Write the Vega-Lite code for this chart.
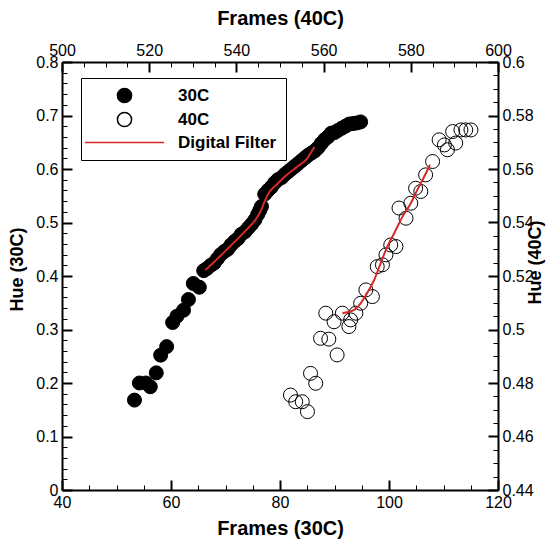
{
  "$schema": "https://vega.github.io/schema/vega-lite/v6.json",
  "width": 436,
  "height": 428,
  "autosize": {"type": "none"},
  "padding": {"left": 62, "top": 62, "right": 60, "bottom": 49},
  "background": "white",
  "config": {
    "font": "Liberation Sans",
    "view": {"stroke": null},
    "axis": {
      "grid": false,
      "domainColor": "black",
      "domainWidth": 2,
      "tickColor": "black",
      "labelFont": "Liberation Sans",
      "labelFontSize": 16,
      "labelColor": "black",
      "labelOverlap": false,
      "labelBound": false,
      "labelFlush": false,
      "titleFont": "Liberation Sans",
      "titleFontSize": 18,
      "titleFontWeight": "bold",
      "titleColor": "black"
    }
  },
  "datasets": {
    "p30": [
      {"frame": 53.3, "hue": 0.168, "series": "30C"},
      {"frame": 54.2, "hue": 0.200, "series": "30C"},
      {"frame": 55.4, "hue": 0.200, "series": "30C"},
      {"frame": 56.2, "hue": 0.193, "series": "30C"},
      {"frame": 57.3, "hue": 0.219, "series": "30C"},
      {"frame": 58.1, "hue": 0.252, "series": "30C"},
      {"frame": 59.2, "hue": 0.268, "series": "30C"},
      {"frame": 60.3, "hue": 0.313, "series": "30C"},
      {"frame": 61.1, "hue": 0.325, "series": "30C"},
      {"frame": 62.3, "hue": 0.336, "series": "30C"},
      {"frame": 63.2, "hue": 0.356, "series": "30C"},
      {"frame": 64.1, "hue": 0.386, "series": "30C"},
      {"frame": 65.2, "hue": 0.379, "series": "30C"},
      {"frame": 66.0, "hue": 0.410, "series": "30C"},
      {"frame": 66.6, "hue": 0.414, "series": "30C"},
      {"frame": 67.3, "hue": 0.420, "series": "30C"},
      {"frame": 67.9, "hue": 0.424, "series": "30C"},
      {"frame": 68.5, "hue": 0.432, "series": "30C"},
      {"frame": 69.1, "hue": 0.440, "series": "30C"},
      {"frame": 69.8, "hue": 0.446, "series": "30C"},
      {"frame": 70.4, "hue": 0.450, "series": "30C"},
      {"frame": 71.0, "hue": 0.458, "series": "30C"},
      {"frame": 71.7, "hue": 0.465, "series": "30C"},
      {"frame": 72.3, "hue": 0.470, "series": "30C"},
      {"frame": 72.9, "hue": 0.478, "series": "30C"},
      {"frame": 73.6, "hue": 0.483, "series": "30C"},
      {"frame": 74.2, "hue": 0.490, "series": "30C"},
      {"frame": 74.8, "hue": 0.497, "series": "30C"},
      {"frame": 75.4, "hue": 0.505, "series": "30C"},
      {"frame": 75.9, "hue": 0.515, "series": "30C"},
      {"frame": 76.3, "hue": 0.523, "series": "30C"},
      {"frame": 76.6, "hue": 0.530, "series": "30C"},
      {"frame": 77.2, "hue": 0.553, "series": "30C"},
      {"frame": 77.8, "hue": 0.560, "series": "30C"},
      {"frame": 78.4, "hue": 0.566, "series": "30C"},
      {"frame": 79.0, "hue": 0.574, "series": "30C"},
      {"frame": 79.6, "hue": 0.580, "series": "30C"},
      {"frame": 80.3, "hue": 0.584, "series": "30C"},
      {"frame": 80.9, "hue": 0.590, "series": "30C"},
      {"frame": 81.5, "hue": 0.595, "series": "30C"},
      {"frame": 82.1, "hue": 0.600, "series": "30C"},
      {"frame": 82.7, "hue": 0.605, "series": "30C"},
      {"frame": 83.3, "hue": 0.610, "series": "30C"},
      {"frame": 84.0, "hue": 0.616, "series": "30C"},
      {"frame": 84.6, "hue": 0.621, "series": "30C"},
      {"frame": 85.2, "hue": 0.626, "series": "30C"},
      {"frame": 85.8, "hue": 0.630, "series": "30C"},
      {"frame": 86.4, "hue": 0.634, "series": "30C"},
      {"frame": 87.0, "hue": 0.640, "series": "30C"},
      {"frame": 87.6, "hue": 0.648, "series": "30C"},
      {"frame": 88.2, "hue": 0.655, "series": "30C"},
      {"frame": 88.8, "hue": 0.660, "series": "30C"},
      {"frame": 89.4, "hue": 0.667, "series": "30C"},
      {"frame": 90.0, "hue": 0.668, "series": "30C"},
      {"frame": 90.6, "hue": 0.672, "series": "30C"},
      {"frame": 91.3, "hue": 0.676, "series": "30C"},
      {"frame": 92.0, "hue": 0.680, "series": "30C"},
      {"frame": 92.7, "hue": 0.684, "series": "30C"},
      {"frame": 93.4, "hue": 0.685, "series": "30C"},
      {"frame": 94.1, "hue": 0.686, "series": "30C"},
      {"frame": 94.8, "hue": 0.688, "series": "30C"}
    ],
    "f30": [
      {"frame": 66.3, "hue": 0.411},
      {"frame": 68.0, "hue": 0.427},
      {"frame": 70.0, "hue": 0.447},
      {"frame": 72.0, "hue": 0.467},
      {"frame": 74.0, "hue": 0.488},
      {"frame": 75.5, "hue": 0.505},
      {"frame": 76.5, "hue": 0.522},
      {"frame": 77.2, "hue": 0.540},
      {"frame": 78.0, "hue": 0.556},
      {"frame": 79.5, "hue": 0.572},
      {"frame": 81.0, "hue": 0.587},
      {"frame": 83.0, "hue": 0.603},
      {"frame": 85.0, "hue": 0.620},
      {"frame": 86.3, "hue": 0.641}
    ],
    "p40": [
      {"frame": 552.4, "hue": 0.4755, "series": "40C"},
      {"frame": 553.6, "hue": 0.4730, "series": "40C"},
      {"frame": 555.1, "hue": 0.4730, "series": "40C"},
      {"frame": 556.3, "hue": 0.4693, "series": "40C"},
      {"frame": 557.0, "hue": 0.4836, "series": "40C"},
      {"frame": 558.2, "hue": 0.4799, "series": "40C"},
      {"frame": 559.3, "hue": 0.4967, "series": "40C"},
      {"frame": 561.2, "hue": 0.4964, "series": "40C"},
      {"frame": 563.1, "hue": 0.4905, "series": "40C"},
      {"frame": 560.5, "hue": 0.5061, "series": "40C"},
      {"frame": 562.4, "hue": 0.5029, "series": "40C"},
      {"frame": 564.3, "hue": 0.5061, "series": "40C"},
      {"frame": 565.8, "hue": 0.5011, "series": "40C"},
      {"frame": 566.2, "hue": 0.5036, "series": "40C"},
      {"frame": 567.4, "hue": 0.5061, "series": "40C"},
      {"frame": 568.5, "hue": 0.5098, "series": "40C"},
      {"frame": 569.7, "hue": 0.5148, "series": "40C"},
      {"frame": 571.2, "hue": 0.5123, "series": "40C"},
      {"frame": 572.3, "hue": 0.5235, "series": "40C"},
      {"frame": 573.5, "hue": 0.5242, "series": "40C"},
      {"frame": 574.3, "hue": 0.5279, "series": "40C"},
      {"frame": 575.4, "hue": 0.5316, "series": "40C"},
      {"frame": 576.6, "hue": 0.5310, "series": "40C"},
      {"frame": 577.3, "hue": 0.5454, "series": "40C"},
      {"frame": 578.9, "hue": 0.5416, "series": "40C"},
      {"frame": 580.0, "hue": 0.5472, "series": "40C"},
      {"frame": 581.1, "hue": 0.5528, "series": "40C"},
      {"frame": 582.3, "hue": 0.5516, "series": "40C"},
      {"frame": 583.4, "hue": 0.5578, "series": "40C"},
      {"frame": 585.0, "hue": 0.5628, "series": "40C"},
      {"frame": 586.5, "hue": 0.5709, "series": "40C"},
      {"frame": 587.7, "hue": 0.5690, "series": "40C"},
      {"frame": 588.4, "hue": 0.5672, "series": "40C"},
      {"frame": 589.6, "hue": 0.5740, "series": "40C"},
      {"frame": 590.3, "hue": 0.5697, "series": "40C"},
      {"frame": 591.5, "hue": 0.5746, "series": "40C"},
      {"frame": 592.6, "hue": 0.5746, "series": "40C"},
      {"frame": 593.8, "hue": 0.5746, "series": "40C"}
    ],
    "f40": [
      {"frame": 564.3, "hue": 0.5061},
      {"frame": 567.0, "hue": 0.5073},
      {"frame": 568.5, "hue": 0.5098},
      {"frame": 570.0, "hue": 0.5136},
      {"frame": 571.6, "hue": 0.5185},
      {"frame": 573.1, "hue": 0.5248},
      {"frame": 574.6, "hue": 0.5310},
      {"frame": 576.2, "hue": 0.5360},
      {"frame": 578.1, "hue": 0.5422},
      {"frame": 580.0, "hue": 0.5472},
      {"frame": 581.5, "hue": 0.5522},
      {"frame": 583.1, "hue": 0.5572},
      {"frame": 584.4, "hue": 0.5616}
    ]
  },
  "layer": [
    {
      "encoding": {
        "x": {
          "field": "frame", "type": "quantitative",
          "scale": {"domain": [40, 120], "nice": false, "zero": false},
          "axis": {
            "orient": "bottom", "title": "Frames (30C)", "titleFontSize": 20,
            "values": [40,45,50,55,60,65,70,75,80,85,90,95,100,105,110,115,120],
            "labelExpr": "datum.value % 20 === 0 ? datum.label : ''",
            "tickSize": {"condition": {"test": "datum.value % 20 === 0", "value": -10}, "value": -5},
            "tickWidth": {"condition": {"test": "datum.value % 20 === 0", "value": 2}, "value": 1},
            "labelPadding": 14,
            "titlePadding": 3
          }
        },
        "y": {
          "field": "hue", "type": "quantitative",
          "scale": {"domain": [0, 0.8], "nice": false, "zero": false},
          "axis": {
            "orient": "left", "title": "Hue (30C)", "format": "~g", "titleY": 207,
            "values": [0,0.02,0.04,0.06,0.08,0.1,0.12,0.14,0.16,0.18,0.2,0.22,0.24,0.26,0.28,0.3,0.32,0.34,0.36,0.38,0.4,0.42,0.44,0.46,0.48,0.5,0.52,0.54,0.56,0.58,0.6,0.62,0.64,0.66,0.68,0.7,0.72,0.74,0.76,0.78,0.8],
            "labelExpr": "abs(datum.value*10 - round(datum.value*10)) < 0.001 ? datum.label : ''",
            "tickSize": {"condition": {"test": "abs(datum.value*10 - round(datum.value*10)) < 0.001", "value": -10}, "value": -5},
            "tickWidth": {"condition": {"test": "abs(datum.value*10 - round(datum.value*10)) < 0.001", "value": 2}, "value": 1},
            "labelPadding": 14,
            "titlePadding": 9
          }
        }
      },
      "layer": [
        {
          "data": {"name": "p30"},
          "mark": {"type": "point", "size": 196, "strokeWidth": 1, "opacity": 1},
          "encoding": {
            "fill": {
              "field": "series", "type": "nominal",
              "scale": {"domain": ["30C", "40C", "Digital Filter"], "range": ["black", "transparent", "transparent"]},
              "legend": {
                "orient": "none", "legendX": 19, "legendY": 16, "title": null,
                "direction": "vertical", "padding": 9,
                "strokeColor": "black", "fillColor": "white",
                "labelFont": "Liberation Sans", "labelFontSize": 17, "labelFontWeight": "bold", "labelColor": "black",
                "symbolSize": 200, "symbolOffset": 26, "labelOffset": 45, "rowPadding": 3,
                "symbolOpacity": 1, "symbolStrokeWidth": 1.5
              }
            },
            "stroke": {
              "field": "series", "type": "nominal",
              "scale": {"domain": ["30C", "40C", "Digital Filter"], "range": ["black", "black", "#d62a2a"]}
            },
            "shape": {
              "field": "series", "type": "nominal",
              "scale": {"domain": ["30C", "40C", "Digital Filter"], "range": ["circle", "circle", "M-5.6,0H5.6"]}
            }
          }
        },
        {
          "data": {"name": "f30"},
          "mark": {"type": "line", "color": "#d62a2a", "strokeWidth": 2, "interpolate": "monotone"},
          "encoding": {}
        }
      ]
    },
    {
      "encoding": {
        "x": {
          "field": "frame", "type": "quantitative",
          "scale": {"domain": [500, 600], "nice": false, "zero": false},
          "axis": {
            "orient": "top", "title": "Frames (40C)", "titleFontSize": 20,
            "values": [500,505,510,515,520,525,530,535,540,545,550,555,560,565,570,575,580,585,590,595,600],
            "labelExpr": "datum.value % 20 === 0 ? datum.label : ''",
            "tickSize": {"condition": {"test": "datum.value % 20 === 0", "value": -10}, "value": -5},
            "tickWidth": {"condition": {"test": "datum.value % 20 === 0", "value": 2}, "value": 1},
            "labelPadding": 14,
            "titlePadding": 9
          }
        },
        "y": {
          "field": "hue", "type": "quantitative",
          "scale": {"domain": [0.44, 0.6], "nice": false, "zero": false},
          "axis": {
            "orient": "right", "title": "Hue (40C)", "titleAngle": 270, "format": "~g", "titleY": 200,
            "values": [0.44,0.445,0.45,0.455,0.46,0.465,0.47,0.475,0.48,0.485,0.49,0.495,0.5,0.505,0.51,0.515,0.52,0.525,0.53,0.535,0.54,0.545,0.55,0.555,0.56,0.565,0.57,0.575,0.58,0.585,0.59,0.595,0.6],
            "labelExpr": "abs(datum.value*50 - round(datum.value*50)) < 0.001 ? datum.label : ''",
            "tickSize": {"condition": {"test": "abs(datum.value*50 - round(datum.value*50)) < 0.001", "value": -10}, "value": -5},
            "tickWidth": {"condition": {"test": "abs(datum.value*50 - round(datum.value*50)) < 0.001", "value": 2}, "value": 1},
            "labelPadding": 14,
            "titlePadding": 11
          }
        }
      },
      "layer": [
        {
          "data": {"name": "p40"},
          "mark": {"type": "point", "size": 196, "strokeWidth": 1, "opacity": 1},
          "encoding": {
            "fill": {"field": "series", "type": "nominal"},
            "stroke": {"field": "series", "type": "nominal"},
            "shape": {"field": "series", "type": "nominal"}
          }
        },
        {
          "data": {"name": "f40"},
          "mark": {"type": "line", "color": "#d62a2a", "strokeWidth": 2, "interpolate": "monotone"},
          "encoding": {}
        }
      ]
    }
  ],
  "resolve": {"scale": {"x": "independent", "y": "independent"}}
}
